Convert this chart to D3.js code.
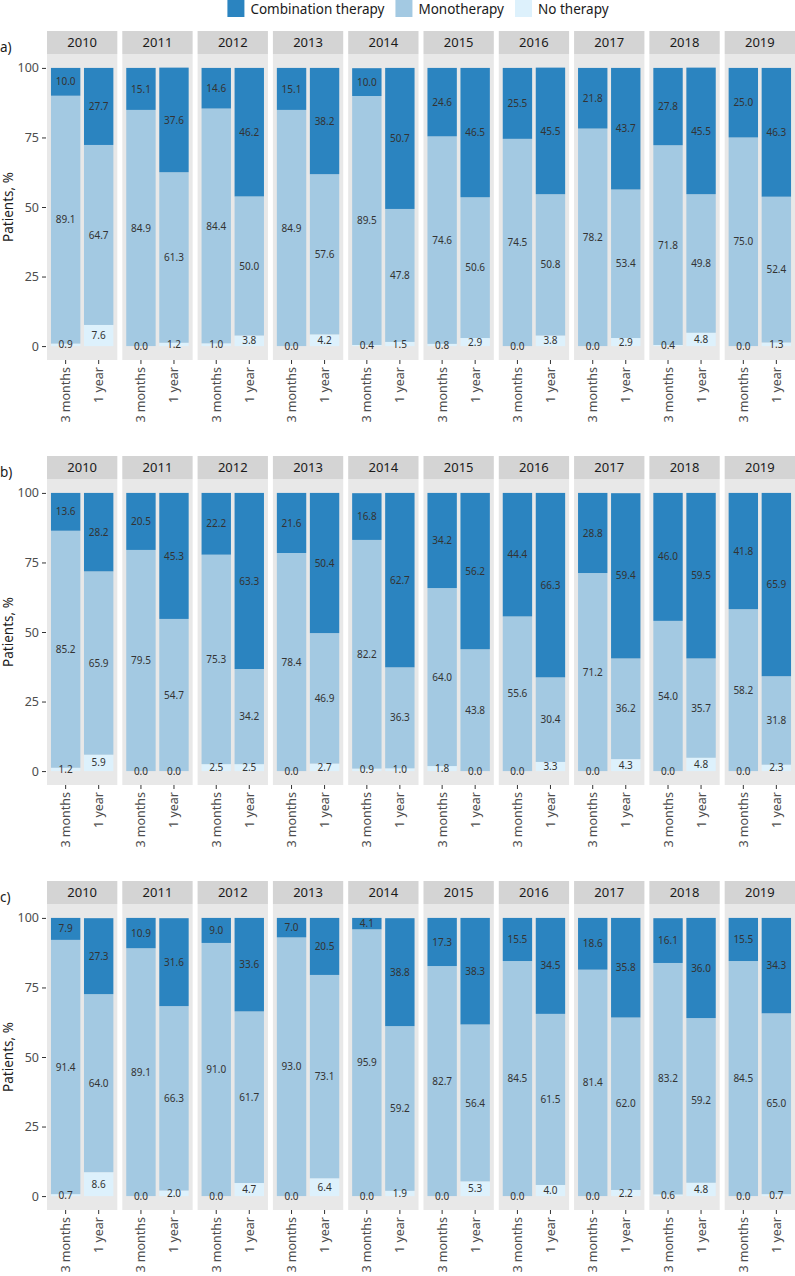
<!DOCTYPE html>
<html><head><meta charset="utf-8">
<script src="https://cdn.jsdelivr.net/npm/d3@7"></script>
<style>
body{margin:0;background:#fff}
svg{display:block;font-family:"Noto Sans",sans-serif}
</style>
</head><body>
<svg id="chart" width="795" height="1276"></svg>
<script>
const years = ["2010","2011","2012","2013","2014","2015","2016","2017","2018","2019"];
const timepoints = ["3 months","1 year"];
const seriesNames = ["Combination therapy","Monotherapy","No therapy"];
const seriesColors = ["#2B84C0","#A3C9E2","#DDF1FC"];
const yTicks = [0,25,50,75,100];
const panelTags = ["a)","b)","c)"];

// Panel a
const a_combination_3m = [10.0,15.1,14.6,15.1,10.0,24.6,25.5,21.8,27.8,25.0];
const a_monotherapy_3m = [89.1,84.9,84.4,84.9,89.5,74.6,74.5,78.2,71.8,75.0];
const a_none_3m        = [0.9,0.0,1.0,0.0,0.4,0.8,0.0,0.0,0.4,0.0];
const a_combination_1y = [27.7,37.6,46.2,38.2,50.7,46.5,45.5,43.7,45.5,46.3];
const a_monotherapy_1y = [64.7,61.3,50.0,57.6,47.8,50.6,50.8,53.4,49.8,52.4];
const a_none_1y        = [7.6,1.2,3.8,4.2,1.5,2.9,3.8,2.9,4.8,1.3];
// Panel b
const b_combination_3m = [13.6,20.5,22.2,21.6,16.8,34.2,44.4,28.8,46.0,41.8];
const b_monotherapy_3m = [85.2,79.5,75.3,78.4,82.2,64.0,55.6,71.2,54.0,58.2];
const b_none_3m        = [1.2,0.0,2.5,0.0,0.9,1.8,0.0,0.0,0.0,0.0];
const b_combination_1y = [28.2,45.3,63.3,50.4,62.7,56.2,66.3,59.4,59.5,65.9];
const b_monotherapy_1y = [65.9,54.7,34.2,46.9,36.3,43.8,30.4,36.2,35.7,31.8];
const b_none_1y        = [5.9,0.0,2.5,2.7,1.0,0.0,3.3,4.3,4.8,2.3];
// Panel c
const c_combination_3m = [7.9,10.9,9.0,7.0,4.1,17.3,15.5,18.6,16.1,15.5];
const c_monotherapy_3m = [91.4,89.1,91.0,93.0,95.9,82.7,84.5,81.4,83.2,84.5];
const c_none_3m        = [0.7,0.0,0.0,0.0,0.0,0.0,0.0,0.0,0.6,0.0];
const c_combination_1y = [27.3,31.6,33.6,20.5,38.8,38.3,34.5,35.8,36.0,34.3];
const c_monotherapy_1y = [64.0,66.3,61.7,73.1,59.2,56.4,61.5,62.0,59.2,65.0];
const c_none_1y        = [8.6,2.0,4.7,6.4,1.9,5.3,4.0,2.2,4.8,0.7];

const panels = [
  {tag: panelTags[0], data: [[a_combination_3m,a_monotherapy_3m,a_none_3m],[a_combination_1y,a_monotherapy_1y,a_none_1y]]},
  {tag: panelTags[1], data: [[b_combination_3m,b_monotherapy_3m,b_none_3m],[b_combination_1y,b_monotherapy_1y,b_none_1y]]},
  {tag: panelTags[2], data: [[c_combination_3m,c_monotherapy_3m,c_none_3m],[c_combination_1y,c_monotherapy_1y,c_none_1y]]}
];

const svg = d3.select("#chart");
const stripTops = [31, 456, 881];
const stripH = 23;
const panelH = 306;

const fx = d3.scaleBand().domain(years).range([47, 795]).paddingInner(0.066).paddingOuter(0);
const ix = d3.scaleBand().domain(timepoints).range([0, fx.bandwidth()]).paddingInner(0.11).paddingOuter(0.12);

// Legend
const legend = svg.append("g");
let lx = 0;
const items = [];
seriesNames.forEach((name, i) => {
  const g = legend.append("g");
  g.append("rect").attr("x", 0).attr("y", 0).attr("width", 17).attr("height", 17).attr("fill", seriesColors[i]);
  const t = g.append("text").attr("x", 23).attr("y", 13.5).attr("font-size", 13.5).attr("fill", "#1A1A1A").text(name);
  const w = 23 + t.node().getComputedTextLength();
  items.push({g, w});
});
let total = d3.sum(items, d => d.w) + 11 * (items.length - 1);
lx = 418 - total / 2;
items.forEach(it => { it.g.attr("transform", `translate(${lx},0)`); lx += it.w + 11; });

panels.forEach((p, pi) => {
  const top = stripTops[pi];
  const pTop = top + stripH;
  const pBot = pTop + panelH;
  const y = d3.scaleLinear().domain([-5, 105]).range([pBot, pTop]);
  const g = svg.append("g");

  // tag
  g.append("text").attr("x", 0).attr("y", top + 21).attr("font-size", 13.5).attr("fill", "#1A1A1A").text(p.tag);

  // y axis title
  g.append("text").attr("transform", `translate(13,${(pTop + pBot) / 2}) rotate(-90)`)
    .attr("text-anchor", "middle").attr("font-size", 13.5).attr("fill", "#1A1A1A").text("Patients, %");

  // y axis
  const ya = g.append("g").attr("transform", `translate(46,0)`)
    .call(d3.axisLeft(y).tickValues(yTicks).tickSize(4).tickPadding(3));
  ya.select(".domain").remove();
  ya.selectAll(".tick line").attr("stroke", "#333");
  ya.selectAll(".tick text").attr("font-size", 12.5).attr("fill", "#4D4D4D").attr("font-family", "Noto Sans");

  years.forEach((yr, yi) => {
    const fg = g.append("g").attr("transform", `translate(${fx(yr)},0)`);
    fg.append("rect").attr("x", 0).attr("y", top).attr("width", fx.bandwidth()).attr("height", stripH).attr("fill", "#D4D4D4");
    fg.append("text").attr("x", fx.bandwidth() / 2).attr("y", top + stripH / 2).attr("dy", "0.36em")
      .attr("text-anchor", "middle").attr("font-size", 13).attr("fill", "#1A1A1A").text(yr);
    fg.append("rect").attr("x", 0).attr("y", pTop).attr("width", fx.bandwidth()).attr("height", panelH).attr("fill", "#E8E8E8");

    timepoints.forEach((tp, ti) => {
      const vals = p.data[ti].map(s => s[yi]);
      // stack order: No therapy bottom, Monotherapy middle, Combination top
      let base = 0;
      const segs = [];
      [2, 1, 0].forEach(si => {
        segs.push({si, y0: base, y1: base + vals[si], v: vals[si]});
        base += vals[si];
      });
      segs.forEach(s => {
        fg.append("rect").attr("x", ix(tp)).attr("width", ix.bandwidth())
          .attr("y", y(s.y1)).attr("height", Math.max(0, y(s.y0) - y(s.y1)))
          .attr("fill", seriesColors[s.si]);
      });
      segs.forEach(s => {
        fg.append("text").attr("x", ix(tp) + ix.bandwidth() / 2).attr("y", y((s.y0 + s.y1) / 2)).attr("dy", "0.36em")
          .attr("text-anchor", "middle").attr("font-size", 10).attr("fill", "#333").text(s.v.toFixed(1));
      });
      // x tick
      const cx = ix(tp) + ix.bandwidth() / 2;
      fg.append("line").attr("x1", cx).attr("x2", cx).attr("y1", pBot).attr("y2", pBot + 4).attr("stroke", "#333");
      fg.append("text").attr("transform", `translate(${cx},${pBot + 7}) rotate(-90)`).attr("dy", "0.36em")
        .attr("text-anchor", "end").attr("font-size", 12.5).attr("fill", "#4D4D4D").text(tp);
    });
  });
});
</script>
</body></html>
